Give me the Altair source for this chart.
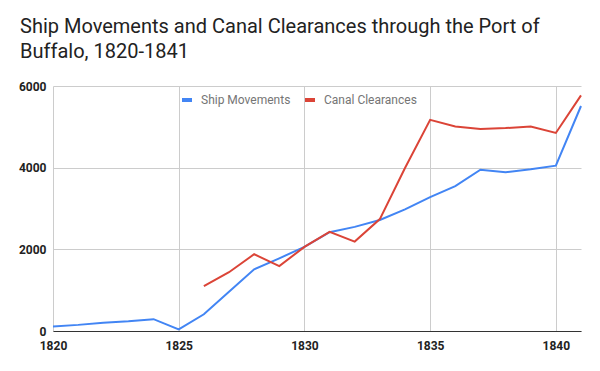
import altair as alt
import pandas as pd

years_ship = list(range(1820, 1842))
ship_movements = [110, 150, 205, 240, 290, 40, 410, 960, 1510, 1780, 2060, 2420,
                  2550, 2720, 2980, 3280, 3550, 3950, 3890, 3960, 4050, 5510]
years_canal = list(range(1826, 1842))
canal_clearances = [1100, 1440, 1880, 1590, 2060, 2430, 2190, 2740, 3990, 5170,
                    5010, 4950, 4970, 5010, 4850, 5770]

series_names = ["Ship Movements", "Canal Clearances"]
series_colors = ["#4285F4", "#DB4437"]

rows = [{"Year": y, "Value": v, "Series": series_names[0]} for y, v in zip(years_ship, ship_movements)]
rows += [{"Year": y, "Value": v, "Series": series_names[1]} for y, v in zip(years_canal, canal_clearances)]
df = pd.DataFrame(rows)

chart = alt.Chart(df).mark_line(strokeWidth=2).encode(
    x=alt.X("Year:Q",
            scale=alt.Scale(domain=[1820, 1841], nice=False, zero=False),
            axis=alt.Axis(values=[1820, 1825, 1830, 1835, 1840], format="d", title=None,
                          grid=True, gridColor="#cccccc", domainColor="#333333",
                          domainWidth=1, ticks=False, labelPadding=9,
                          labelFont="Roboto", labelFontSize=12, labelFontWeight="bold",
                          labelColor="#222222", labelFlush=False)),
    y=alt.Y("Value:Q",
            scale=alt.Scale(domain=[0, 6000], nice=False),
            axis=alt.Axis(values=[0, 2000, 4000, 6000], format="d", title=None, grid=True,
                          gridColor="#cccccc", domain=False, ticks=False, labelPadding=7,
                          labelFont="Roboto", labelFontSize=12, labelFontWeight="bold",
                          labelColor="#222222")),
    color=alt.Color("Series:N",
                    scale=alt.Scale(domain=series_names, range=series_colors),
                    sort=series_names,
                    legend=alt.Legend(orient="none", legendX=127, legendY=7,
                                      direction="horizontal", title=None,
                                      symbolType="stroke", symbolSize=100,
                                      symbolStrokeWidth=4, columnPadding=6,
                                      labelFont="Roboto", labelFontSize=12,
                                      labelColor="#757575", labelOffset=7)),
).properties(
    width=528,
    height=245,
    title=alt.TitleParams(
        text=["Ship Movements and Canal Clearances through the Port of", "Buffalo, 1820-1841"],
        anchor="start", frame="group", dx=-33, offset=18,
        font="Roboto", fontSize=20, fontWeight="normal", color="#222222", lineHeight=25),
    autosize=alt.AutoSizeParams(type="none"),
    padding={"left": 45, "top": 78, "right": 11, "bottom": 32},
).configure_view(stroke=None)

chart.save("out.html", embed_options={"renderer": "svg", "actions": False})
